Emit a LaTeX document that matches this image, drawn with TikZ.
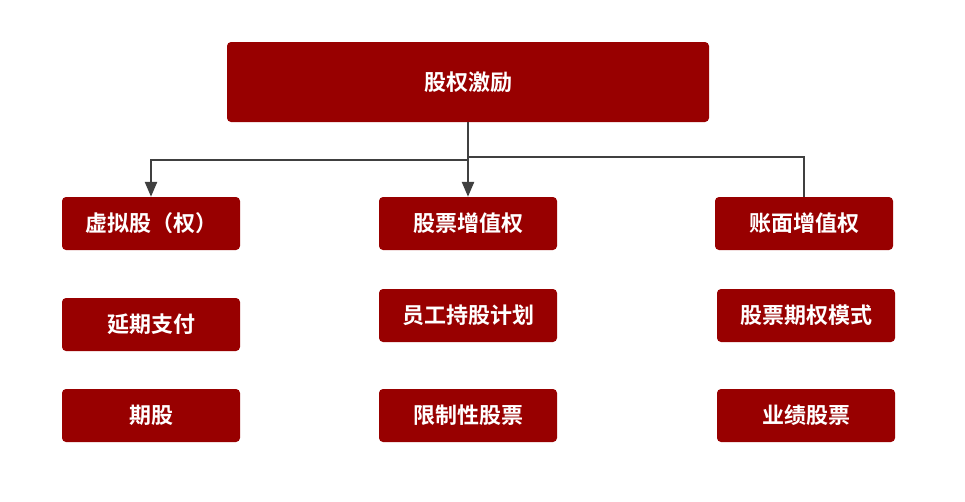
\documentclass[tikz,border=0pt]{standalone}
\usepackage{fontspec}
\newfontfamily\cjk{Noto Sans CJK SC}[BoldFont={Noto Sans CJK SC Bold}]
\usetikzlibrary{arrows.meta,positioning}
\definecolor{maroon}{RGB}{152,0,0}
\definecolor{wire}{RGB}{64,64,64}

\begin{document}
\begin{tikzpicture}[x=1pt,y=-1pt,
    box/.style={rectangle,rounded corners=4pt,fill=maroon,text=white,
      font=\cjk\bfseries\fontsize{22}{22}\selectfont,minimum width=178pt,minimum height=53pt,inner sep=0pt},
    link/.style={draw=wire,line width=2.5pt},
    tip/.style={-{Triangle[length=15pt,width=12pt]}}]
  \useasboundingbox (0,0) rectangle (965,501);
  \node[box,minimum width=482pt,minimum height=80pt] (top) at (468,82) {股权激励};
  % first row
  \node[box] (phantom) at (151,223.5) {虚拟股（权）};
  \node[box] (sar) at (468,223.5) {股票增值权};
  \node[box] (book) at (804,223.5) {账面增值权};
  % lower rows
  \node[box] (defer) at (151,324.5) {延期支付};
  \node[box] (esop) at (468,315.5) {员工持股计划};
  \node[box] (option) at (806,315.5) {股票期权模式};
  \node[box] (futures) at (151,415.5) {期股};
  \node[box] (restrict) at (468,415.5) {限制性股票};
  \node[box] (perf) at (806,415.5) {业绩股票};
  % connectors
  \coordinate (jl) at (0,160);
  \coordinate (jr) at (0,157);
  \draw[link,tip] (top.south) -- (top.south |- jl) -| (phantom.north);
  \draw[link] (top.south |- jr) -| (book.north);
  \draw[link,tip] (top.south) -- (sar.north);
\end{tikzpicture}
\end{document}
